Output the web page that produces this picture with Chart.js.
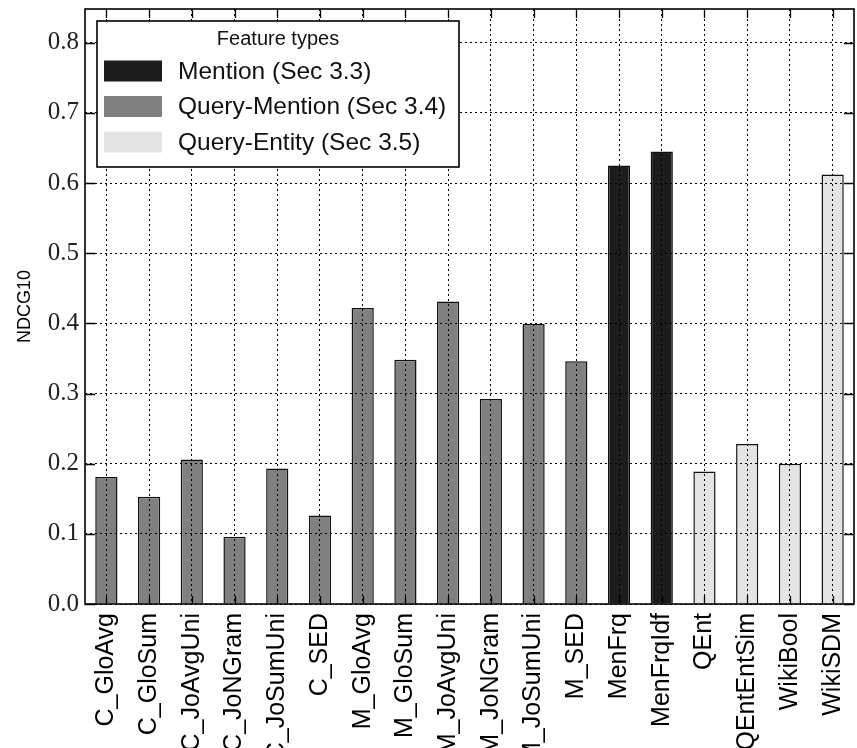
<!DOCTYPE html>
<html>
<head>
<meta charset="utf-8">
<script src="https://cdn.jsdelivr.net/npm/chart.js@4/dist/chart.umd.min.js"></script>
<style>
html,body{margin:0;padding:0;background:#fff;}
#wrap{position:relative;width:857px;height:748px;}
</style>
</head>
<body>
<div id="wrap"><canvas id="c" width="857" height="748"></canvas></div>
<script>
const categories = ["C_GloAvg","C_GloSum","C_JoAvgUni","C_JoNGram","C_JoSumUni","C_SED",
  "M_GloAvg","M_GloSum","M_JoAvgUni","M_JoNGram","M_JoSumUni","M_SED",
  "MenFrq","MenFrqIdf","QEnt","QEntEntSim","WikiBool","WikiSDM"];
const ndcg10 = [0.181,0.153,0.206,0.096,0.193,0.126,
  0.422,0.348,0.431,0.292,0.399,0.346,
  0.625,0.645,0.189,0.228,0.200,0.612];
// group index per category: 0 = Mention, 1 = Query-Mention, 2 = Query-Entity
const featureGroup = [1,1,1,1,1,1,1,1,1,1,1,1,0,0,2,2,2,2];
const groupLabels = ["Mention (Sec 3.3)","Query-Mention (Sec 3.4)","Query-Entity (Sec 3.5)"];
const groupColors = ["#1c1c1c","#808080","#e4e4e4"];
const legendTitle = "Feature types";
const yTickValues = [0,0.1,0.2,0.3,0.4,0.5,0.6,0.7,0.8];

const decorPlugin = {
  id: 'decor',
  afterDatasetsDraw(chart) {
    const ctx = chart.ctx, a = chart.chartArea;
    const xs = chart.scales.x, ys = chart.scales.y;
    ctx.save();
    ctx.strokeStyle = '#000';
    ctx.lineWidth = 1.3;
    ctx.setLineDash([]);
    ctx.beginPath();
    yTickValues.forEach(v => {
      const y = Math.round(ys.getPixelForValue(v)) + 0.5;
      ctx.moveTo(a.left, y); ctx.lineTo(a.left + 10, y);
      ctx.moveTo(a.right, y); ctx.lineTo(a.right - 10, y);
    });
    categories.forEach((c, i) => {
      const x = Math.round(xs.getPixelForValue(i)) + 0.5;
      ctx.moveTo(x, a.top); ctx.lineTo(x, a.top + 9);
      ctx.moveTo(x, a.bottom); ctx.lineTo(x, a.bottom - 8);
    });
    ctx.stroke();
    ctx.lineWidth = 1.6;
    ctx.strokeRect(a.left, a.top, a.right - a.left, a.bottom - a.top);
    ctx.restore();
  },
  afterDraw(chart) {
    const ctx = chart.ctx, a = chart.chartArea;
    const bx = a.left + 12, by = a.top + 12, bw = 362, bh = 146;
    ctx.save();
    ctx.fillStyle = '#fff';
    ctx.fillRect(bx, by, bw, bh);
    ctx.strokeStyle = '#000';
    ctx.lineWidth = 1.6;
    ctx.strokeRect(bx, by, bw, bh);
    ctx.fillStyle = '#111';
    ctx.textBaseline = 'middle';
    ctx.textAlign = 'center';
    ctx.font = '20px "Liberation Sans", Arial, sans-serif';
    ctx.fillText(legendTitle, bx + bw / 2, by + 18);
    ctx.textAlign = 'left';
    ctx.font = '24.5px "Liberation Sans", Arial, sans-serif';
    groupLabels.forEach((lab, i) => {
      const cy = by + 50 + i * 35.5;
      ctx.fillStyle = groupColors[i];
      ctx.fillRect(bx + 7, cy - 10.5, 58, 21);
      ctx.fillStyle = '#111';
      ctx.fillText(lab, bx + 81, cy + 1);
    });
    ctx.restore();
  }
};

new Chart(document.getElementById('c'), {
  type: 'bar',
  data: {
    labels: categories,
    datasets: [{
      data: ndcg10,
      backgroundColor: featureGroup.map(g => groupColors[g]),
      borderColor: '#111',
      borderWidth: 1.5,
      barPercentage: 0.52,
      categoryPercentage: 1.0
    }]
  },
  options: {
    responsive: false,
    animation: false,
    devicePixelRatio: 1,
    layout: { padding: { left: 0, right: 3, top: 9, bottom: 0 } },
    plugins: { legend: { display: false }, tooltip: { enabled: false } },
    scales: {
      x: {
        offset: true,
        grid: { z: 1, offset: false, drawTicks: false, color: '#000', lineWidth: 1 },
        border: { display: false, dash: [2,3] },
        ticks: {
          autoSkip: false, minRotation: 90, maxRotation: 90, padding: 9,
          color: '#000', font: { family: '"Liberation Sans", Arial, sans-serif', size: 25 }
        },
        afterFit(s) { s.height = 144; s.paddingLeft = 0; s.paddingRight = 0; }
      },
      y: {
        min: 0, max: 0.848,
        grid: { z: 1, drawTicks: false, color: '#000', lineWidth: 1 },
        border: { display: false, dash: [2,3] },
        ticks: {
          stepSize: 0.1, padding: 6, color: '#222',
          font: { family: '"Liberation Serif", "Times New Roman", serif', size: 25 },
          callback: v => Number(v).toFixed(1)
        },
        afterBuildTicks(s) {
          s.ticks = yTickValues.map(v => ({ value: v }));
        },
        title: {
          display: true, text: 'NDCG10', color: '#000',
          font: { family: '"Liberation Sans", Arial, sans-serif', size: 18 },
          padding: { top: 14, bottom: 0 }
        },
        afterFit(s) { s.width = 85; s.paddingTop = 0; s.paddingBottom = 0; }
      }
    }
  },
  plugins: [decorPlugin]
});
</script>
</body>
</html>
